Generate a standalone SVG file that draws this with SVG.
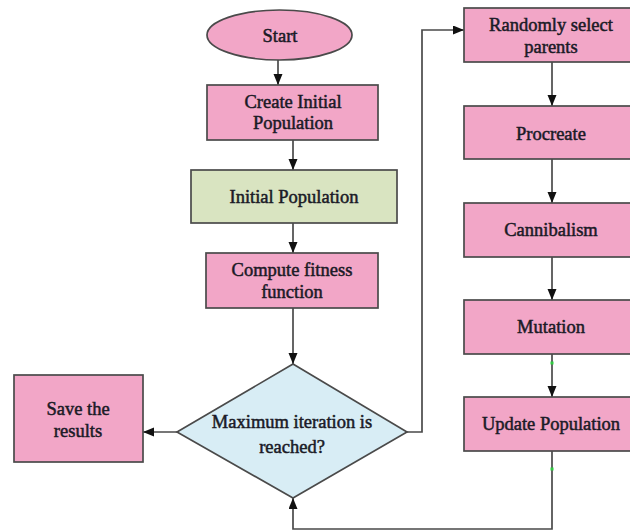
<svg xmlns="http://www.w3.org/2000/svg" width="630" height="531" viewBox="0 0 630 531">
<defs>
<style>
.pink{fill:#f2a6c7;stroke:#4a4a4a;stroke-width:1.7}
.green{fill:#d9e4c1;stroke:#4a4a4a;stroke-width:1.7}
.blue{fill:#d8edf5;stroke:#4a4a4a;stroke-width:1.7}
.t{font-family:"Liberation Serif","Times New Roman",serif;font-size:18.5px;fill:#1a1a26;text-anchor:middle;stroke:#1a1a26;stroke-width:0.5}
.c{fill:none;stroke:#4a4a4a;stroke-width:1.7}
</style>
<marker id="ah" markerUnits="userSpaceOnUse" markerWidth="12" markerHeight="10" refX="11" refY="4.5" orient="auto">
<path d="M0,0 L11,4.5 L0,9 z" fill="#111"/>
</marker>
</defs>
<rect width="630" height="531" fill="#fff"/>
<g id="connectors">
<path class="c" d="M278,60 V85" marker-end="url(#ah)"/>
<path class="c" d="M293,140 V170" marker-end="url(#ah)"/>
<path class="c" d="M293,223 V253" marker-end="url(#ah)"/>
<path class="c" d="M293,308 V364" marker-end="url(#ah)"/>
<path class="c" d="M177,432 H143" marker-end="url(#ah)"/>
<path class="c" d="M407,432 H422 V30 H464" marker-end="url(#ah)"/>
<path class="c" d="M552,62 V106" marker-end="url(#ah)"/>
<path class="c" d="M552,159 V203" marker-end="url(#ah)"/>
<path class="c" d="M552,257 V300" marker-end="url(#ah)"/>
<path class="c" d="M552,354 V397" marker-end="url(#ah)"/>
<path class="c" d="M552,451 V529 H293 V498" marker-end="url(#ah)"/>
<rect x="550.5" y="361.5" width="3" height="3" fill="#2ecc40"/>
<rect x="550.5" y="467.5" width="3" height="3" fill="#2ecc40"/>
</g>
<g id="start">
<ellipse class="pink" cx="279.5" cy="35" rx="72.5" ry="25"/>
<text class="t" x="280" y="42">Start</text>
</g>
<g id="create">
<rect class="pink" x="207" y="85" width="171" height="55"/>
<text class="t" x="293" y="108">Create Initial</text>
<text class="t" x="293" y="129">Population</text>
</g>
<g id="initial">
<rect class="green" x="191" y="170" width="206" height="53"/>
<text class="t" x="294" y="203">Initial Population</text>
</g>
<g id="compute">
<rect class="pink" x="206" y="253" width="172" height="55"/>
<text class="t" x="292" y="276">Compute fitness</text>
<text class="t" x="292" y="298">function</text>
</g>
<g id="decision">
<polygon class="blue" points="293,364 407,432 293,498 177,432"/>
<text class="t" x="292" y="428">Maximum iteration is</text>
<text class="t" x="292" y="453">reached?</text>
</g>
<g id="save">
<rect class="pink" x="14" y="375" width="129" height="87"/>
<text class="t" x="78" y="415">Save the</text>
<text class="t" x="78" y="437">results</text>
</g>
<g id="randomly">
<rect class="pink" x="464" y="8" width="176" height="54"/>
<text class="t" x="551" y="31">Randomly select</text>
<text class="t" x="551" y="53">parents</text>
</g>
<g id="procreate">
<rect class="pink" x="464" y="106" width="176" height="53"/>
<text class="t" x="551" y="140">Procreate</text>
</g>
<g id="cannibalism">
<rect class="pink" x="464" y="203" width="176" height="54"/>
<text class="t" x="551" y="236">Cannibalism</text>
</g>
<g id="mutation">
<rect class="pink" x="464" y="300" width="176" height="54"/>
<text class="t" x="551" y="333">Mutation</text>
</g>
<g id="update">
<rect class="pink" x="464" y="397" width="176" height="54"/>
<text class="t" x="551" y="430">Update Population</text>
</g>
</svg>
